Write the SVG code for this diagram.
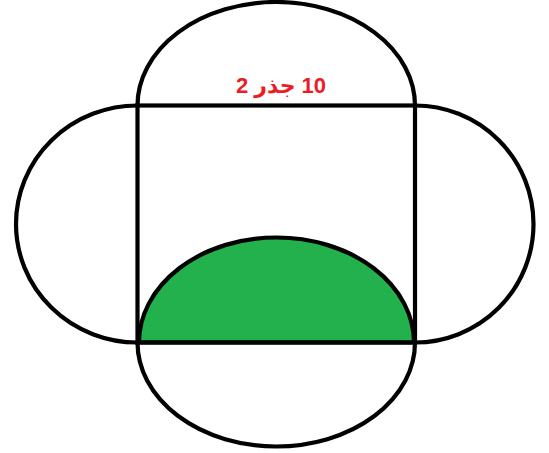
<svg xmlns="http://www.w3.org/2000/svg" width="549" height="453" viewBox="0 0 549 453">
<style>
.ln{fill:none;stroke:#000;stroke-width:4.2}
.lbl{font-family:"Liberation Sans","DejaVu Sans",sans-serif;font-weight:bold;font-size:22px;fill:#ED1C24}
</style>
<rect width="549" height="453" fill="#fff"/>
<g id="green-half">
<path d="M139,342.5 A137.5,105 0 0 1 414,342.5 Z" fill="#22B14C" stroke="#000" stroke-width="4.2"/>
</g>
<g id="top-arc"><path class="ln" d="M137.5,105.5 A138.75,103.5 0 0 1 415,105.5"/></g>
<g id="left-arc"><path class="ln" d="M137.5,105.5 A121.5,118.5 0 0 0 137.5,342.5"/></g>
<g id="right-arc"><path class="ln" d="M415,105.5 A118.5,118.5 0 0 1 415,342.5"/></g>
<g id="bottom-arc"><path class="ln" d="M137.5,342.5 A138.75,104 0 0 0 415,342.5"/></g>
<g id="square"><rect class="ln" x="137.5" y="105.5" width="277.5" height="237"/></g>
<g id="label"><text class="lbl" x="281" y="93" text-anchor="middle" direction="rtl">10 جذر 2</text></g>
</svg>
